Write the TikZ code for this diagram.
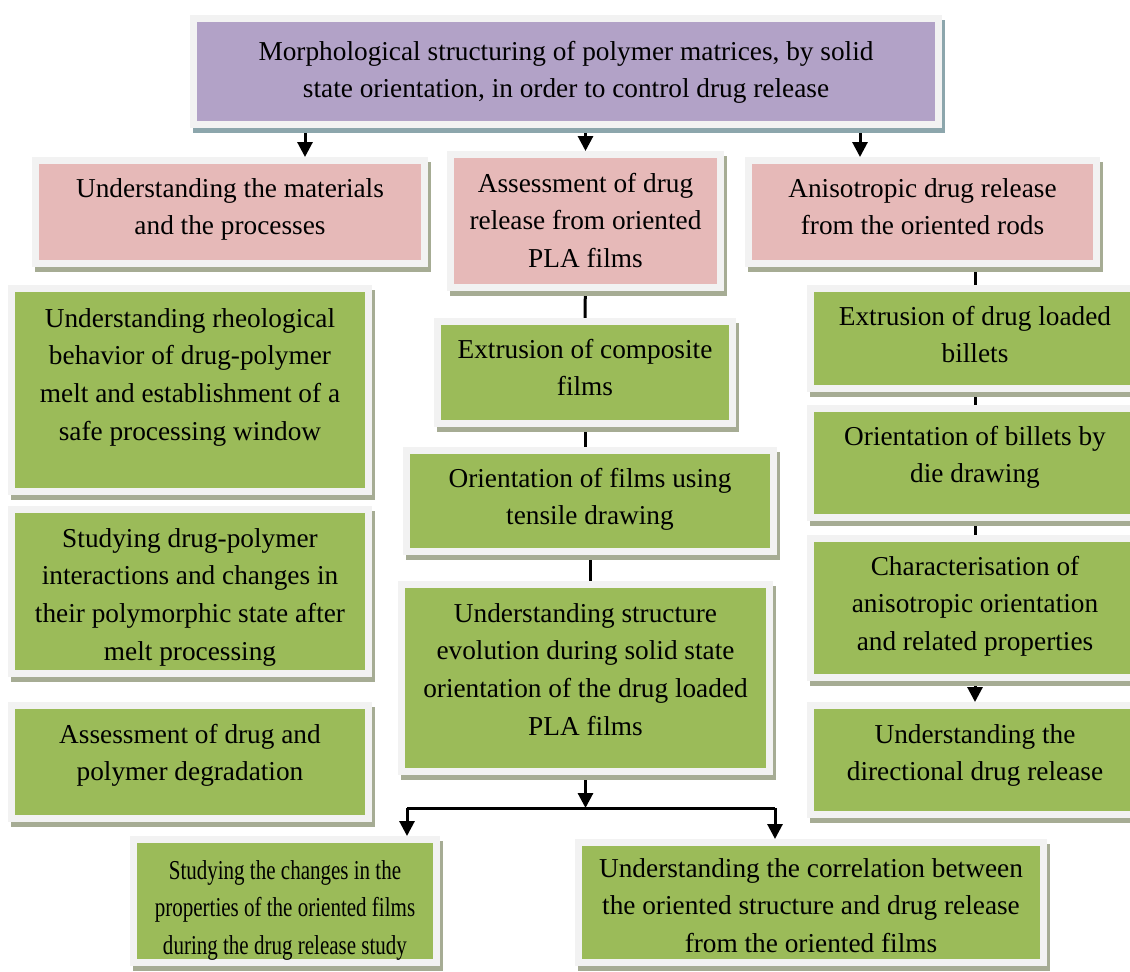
\documentclass[tikz,border=0pt]{standalone}
\usepackage{fontspec}
\setmainfont{Liberation Serif}
\newfontfamily\boxserif{Liberation Serif}
\newfontfamily\narrowserif[FakeStretch=0.77]{Liberation Serif}
\usepackage{xcolor}
\usepackage{tikz}
\usetikzlibrary{arrows.meta,positioning,shadows,backgrounds}
\definecolor{purp}{RGB}{178,162,199}
\definecolor{rose}{RGB}{230,185,184}
\definecolor{leaf}{RGB}{155,187,89}
\definecolor{rim}{RGB}{242,242,242}
\definecolor{shdblue}{RGB}{140,166,172}
\definecolor{shdgreen}{RGB}{166,172,148}
\newcommand\boxfont{\boxserif\fontsize{27.3}{37.7}\selectfont}
\tikzset{
  box/.style={draw=rim, line width=7pt, align=center, inner sep=2pt, font=\boxfont,
    drop shadow={shadow xshift=3pt, shadow yshift=-5pt, fill=shdgreen, draw=shdgreen,
      line width=7pt, opacity=1}},
  headbox/.style={box, fill=purp,
    drop shadow={shadow xshift=3pt, shadow yshift=-5pt, fill=shdblue, draw=shdblue,
      line width=7pt, opacity=1}},
  aimbox/.style={box, fill=rose},
  taskbox/.style={box, fill=leaf},
  % moves the text block to where it sits in the box
  textdrop/.style={text height=#1pt, text depth=5pt},
  flow/.style={draw=black, line width=3pt, -{Triangle[width=15pt,length=15pt]}},
  link/.style={draw=black, line width=3pt}
}

\begin{document}
\begin{tikzpicture}[x=1pt, y=-1pt]
    \useasboundingbox (0,0) rectangle (1130,972);

    % main aim
    \node[headbox, textdrop=57.4, minimum width=745pt, minimum height=106pt] (title) at (566,71.5)
      {Morphological structuring of polymer matrices, by solid\\state orientation, in order to control drug release};

    % three objectives
    \node[aimbox, textdrop=50.4, minimum width=389pt, minimum height=103pt] (under) at (230,212)
      {Understanding the materials\\and the processes};
    \node[aimbox, textdrop=97.8, minimum width=270pt, minimum height=133pt] (assess) at (585.5,221)
      {Assessment of drug\\release from oriented\\PLA films};
    \node[aimbox, textdrop=50.4, minimum width=348pt, minimum height=103pt] (aniso) at (922.5,212)
      {Anisotropic drug release\\from the oriented rods};

    % left column
    \node[taskbox, textdrop=105.2, minimum width=357pt, minimum height=203pt] (rheo) at (190,390)
      {Understanding rheological\\behavior of drug-polymer\\melt and establishment of a\\safe processing window};
    \node[taskbox, textdrop=142.2, minimum width=357pt, minimum height=164pt] (interact) at (190,591.5)
      {Studying drug-polymer\\interactions and changes in\\their polymorphic state after\\melt processing};
    \node[taskbox, textdrop=42.4, minimum width=357pt, minimum height=113pt] (degrad) at (190,762)
      {Assessment of drug and\\polymer degradation};

    % middle column
    \node[taskbox, textdrop=51.4, minimum width=295pt, minimum height=102pt] (extrude) at (585,372.5)
      {Extrusion of composite\\films};
    \node[taskbox, textdrop=52.4, minimum width=367pt, minimum height=101pt] (orient) at (590,501)
      {Orientation of films using\\tensile drawing};
    \node[taskbox, textdrop=119.2, minimum width=368pt, minimum height=187pt] (struct) at (585.5,678)
      {Understanding structure\\evolution during solid state\\orientation of the drug loaded\\PLA films};
    \node[taskbox, textdrop=111.8, minimum width=303pt, minimum height=123pt, font=\narrowserif\fontsize{27.3}{37.7}\selectfont] (changes) at (285,901)
      {Studying the changes in the\\properties of the oriented films\\during the drug release study};
    \node[taskbox, textdrop=104.8, minimum width=465pt, minimum height=120pt] (correl) at (811,902.5)
      {Understanding the correlation between\\the oriented structure and drug release\\from the oriented films};

    % right column
    \node[taskbox, textdrop=53.4, minimum width=329pt, minimum height=100pt] (billets) at (975,338.5)
      {Extrusion of drug loaded\\billets};
    \node[taskbox, textdrop=44.4, minimum width=329pt, minimum height=109pt] (die) at (975,463)
      {Orientation of billets by\\die drawing};
    \node[taskbox, textdrop=89.8, minimum width=329pt, minimum height=139pt] (charact) at (975,608)
      {Characterisation of\\anisotropic orientation\\and related properties};
    \node[taskbox, textdrop=46.4, minimum width=329pt, minimum height=109pt] (direct) at (975,760)
      {Understanding the\\directional drug release};

    \coordinate (forkL) at (407,808);
    \coordinate (forkR) at (775,808);

    \begin{scope}[on background layer]
      \draw[flow] ([xshift=75pt]under.north |- title.south) -- ([xshift=75pt]under.north);
      \draw[flow] (assess.north |- title.south) -- (assess.north);
      \draw[flow] ([xshift=-62.5pt]aniso.north |- title.south) -- ([xshift=-62.5pt]aniso.north);

      \draw[link] (assess) -- (extrude);
      \draw[link] (extrude.south) -- (extrude.south |- orient.north);
      \draw[link] (orient.south) -- (orient.south |- struct.north);
      \draw[flow] (struct.south) -- (struct.south |- forkL);
      \draw[link] (forkL) -- (forkR);
      \draw[flow] (forkL) -- (forkL |- changes.north);
      \draw[flow] (forkR) -- (forkR |- correl.north);

      \draw[link] (billets.north |- aniso.south) -- (billets.north);
      \draw[link] (billets) -- (die);
      \draw[link] (die) -- (charact);
      \draw[flow] (charact) -- (direct);
    \end{scope}
  \end{tikzpicture}
\end{document}
